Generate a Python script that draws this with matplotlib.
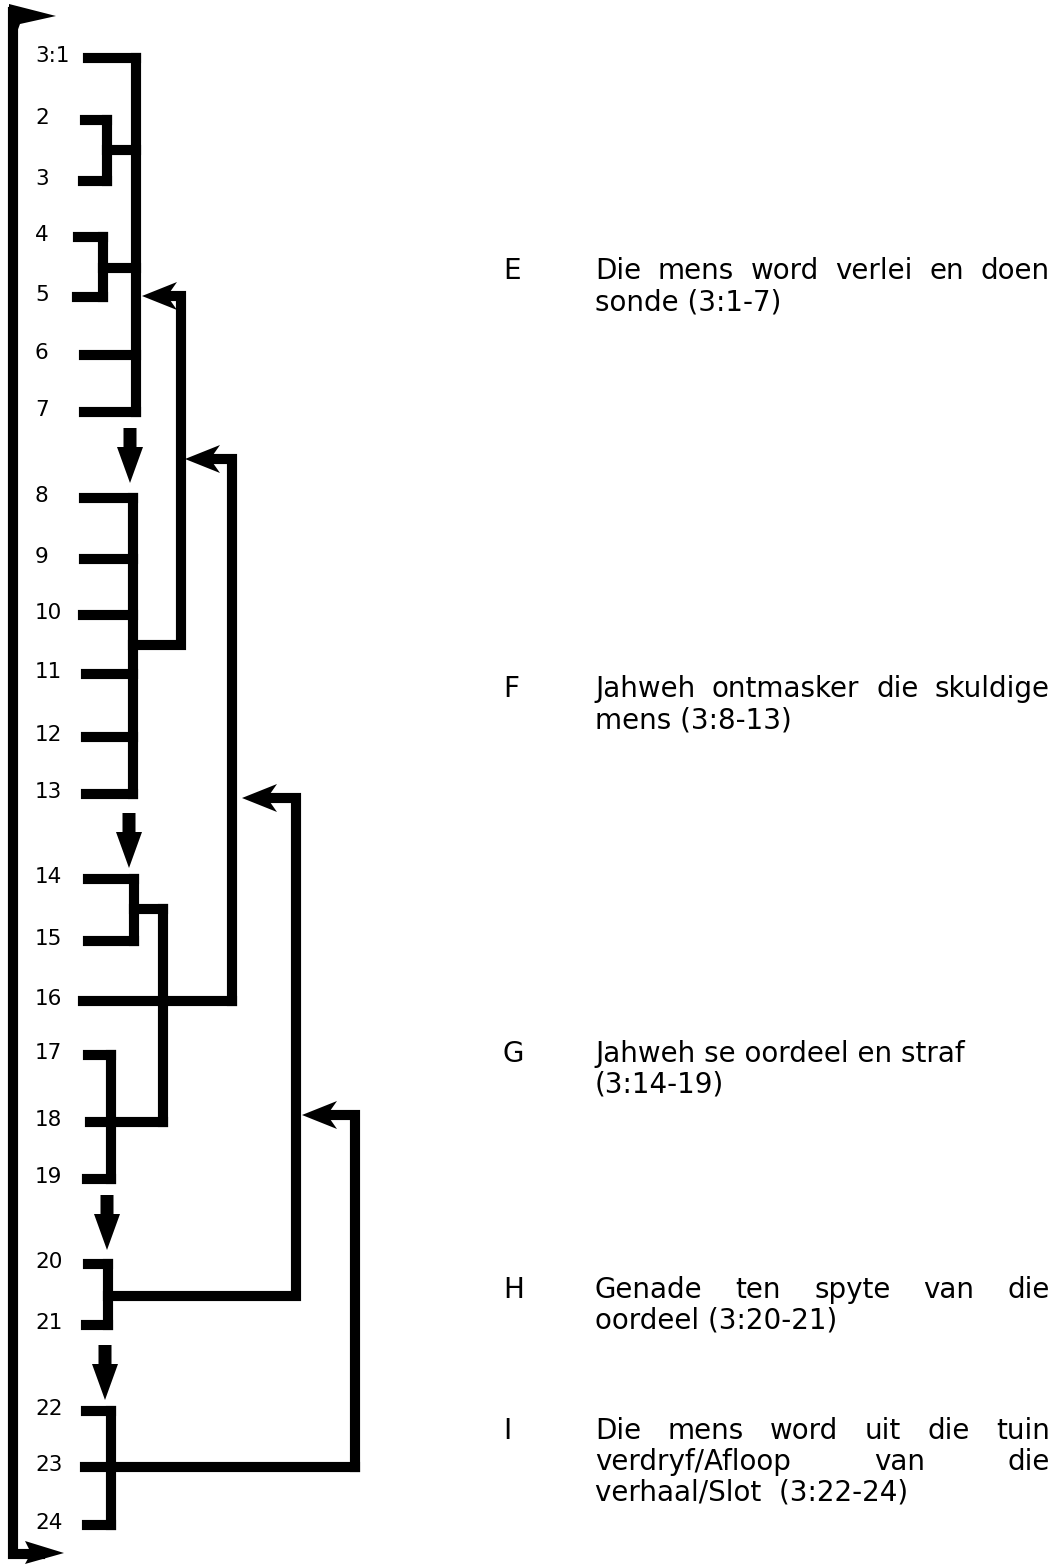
import matplotlib
matplotlib.use("Agg")
import matplotlib.pyplot as plt
from matplotlib.patches import Polygon

plt.rcParams["font.family"] = ["DejaVu Sans"]

# verse rows (Genesis 3)
verses = ["3:1", "2", "3", "4", "5", "6", "7", "8", "9", "10", "11", "12",
          "13", "14", "15", "16", "17", "18", "19", "20", "21", "22", "23", "24"]
verse_y = [58, 120, 181, 237, 297, 355, 412, 498, 559, 615, 674, 737,
           794, 879, 941, 1001, 1055, 1122, 1179, 1264, 1325, 1411, 1467, 1525]
line_x0 = [83, 80, 78, 73, 72, 79, 79, 79, 79, 78, 81, 81,
           81, 83, 83, 78, 83, 85, 82, 83, 81, 81, 80, 82]
# right end of each verse line (centre of the bracket it joins)
line_x1 = [136, 107, 107, 103, 103, 136, 136, 133, 133, 133, 133, 133,
           133, 134, 134, 232, 111, 163, 111, 108, 108, 111, 355, 111]

# brackets: (x, first verse, last verse)
brackets = [(107, "2", "3"), (103, "4", "5"), (136, "3:1", "7"),
            (133, "8", "13"), (134, "14", "15"), (111, "17", "19"),
            (108, "20", "21"), (111, "22", "24")]
# joins: (y, x_from, x_to)
joins = [(150, 107, 136), (268, 103, 136), (909, 134, 163)]
# 14/15 branch drops to verse 18
drops = [(163, 909, 1122)]

# feedback arrows: (start y, start x, turn x, end y, tip x)
feedback = [(645, 133, 181, 296, 142),
            (1001, 232, 232, 459, 185),
            (1296, 108, 296, 798, 242),
            (1467, 355, 355, 1115, 302)]

# down arrows between scenes: (x, top, tip)
down_arrows = [(130, 428, 483), (129, 813, 868), (107, 1195, 1250), (105, 1345, 1400)]

scene_letters = ["E", "F", "G", "H", "I"]
scene_lines = [
    [("Die mens word verlei en doen", True), ("sonde (3:1-7)", False)],
    [("Jahweh ontmasker die skuldige", True), ("mens (3:8-13)", False)],
    [("Jahweh se oordeel en straf", False), ("(3:14-19)", False)],
    [("Genade ten spyte van die", True), ("oordeel (3:20-21)", False)],
    [("Die mens word uit die tuin", True), ("verdryf/Afloop van die", True),
     ("verhaal/Slot  (3:22-24)", False)],
]
scene_y = [270, 688, 1053, 1289, 1430]
line_gap = 31

W, H = 1064, 1565
fig = plt.figure(figsize=(W / 100, H / 100), dpi=100)
ax = fig.add_axes([0, 0, 1, 1])
ax.set_xlim(0, W)
ax.set_ylim(H, 0)
ax.axis("off")

lw = 7.3
kw = dict(color="black", lw=lw, solid_capstyle="projecting", solid_joinstyle="miter")
vy = dict(zip(verses, verse_y))

for lab, y, x0, x1 in zip(verses, verse_y, line_x0, line_x1):
    ax.text(35, y - 2, lab, fontsize=15.5, ha="left", va="center")
    ax.plot([x0 + 5, x1], [y, y], **kw)

for x, a, b in brackets:
    ax.plot([x, x], [vy[a], vy[b]], **kw)
for y, xa, xb in joins:
    ax.plot([xa, xb], [y, y], **kw)
for x, ya, yb in drops:
    ax.plot([x, x], [ya, yb], **kw)


def left_head(tip_x, y, length=35, half=14):
    pts = [(tip_x, y), (tip_x + length, y - half), (tip_x + length * 0.72, y),
           (tip_x + length, y + half)]
    ax.add_patch(Polygon(pts, closed=True, color="black", lw=0))


for y0, x0, xt, y1, tip in feedback:
    ax.plot([x0, xt, xt, tip + 22], [y0, y0, y1, y1], **kw)
    left_head(tip, y1)

for x, top, tip in down_arrows:
    ax.arrow(x, top, 0, tip - top, width=13, head_width=26, head_length=36,
             length_includes_head=True, color="black", lw=0)

# outer frame with arrows at both ends
ax.plot([13, 13, 40], [12, 1554, 1554], **kw)
ax.add_patch(Polygon([(9, 4), (56, 16), (20, 24), (17, 32), (9, 32)], closed=True, color="black", lw=0))
ax.add_patch(Polygon([(64, 1553), (25, 1541), (31, 1553), (25, 1564)], closed=True, color="black", lw=0))

# scene descriptions
renderer = fig.canvas.get_renderer()
text_x0, text_x1 = 595, 1050
fs = 20
for letter, y0, lines in zip(scene_letters, scene_y, scene_lines):
    ax.text(503, y0 + 9, letter, fontsize=fs, ha="left", va="baseline")
    for i, (line, justify) in enumerate(lines):
        yb = y0 + i * line_gap + 9
        if not justify:
            ax.text(text_x0, yb, line, fontsize=fs, ha="left", va="baseline")
            continue
        words = line.split()
        arts = [ax.text(0, yb, w, fontsize=fs, ha="left", va="baseline") for w in words]
        widths = [a.get_window_extent(renderer=renderer).width for a in arts]
        gap = (text_x1 - text_x0 - sum(widths)) / (len(words) - 1)
        x = text_x0
        for a, wd in zip(arts, widths):
            a.set_x(x)
            x += wd + gap

fig.savefig("out.png", dpi=100)
